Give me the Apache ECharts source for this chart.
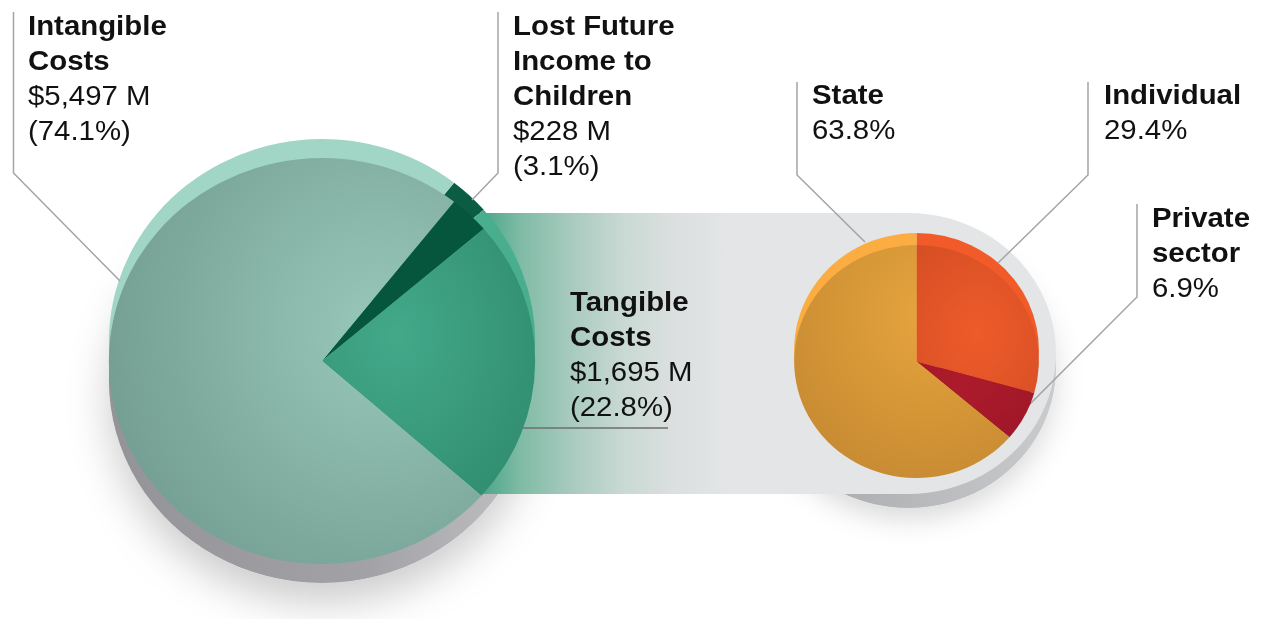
<!DOCTYPE html>
<html>
<head>
<meta charset="utf-8">
<script src="https://cdn.jsdelivr.net/npm/echarts@6/dist/echarts.min.js"></script>
<style>
html, body { margin: 0; padding: 0; background: #fff; overflow: hidden; }
/* the reference art is stretched about 5% wider than tall */
#main { width: 1202px; height: 619px; transform: scaleX(1.05); transform-origin: 0 0; }
</style>
</head>
<body>
<div id="main"></div>
<script>
// big pie: cost of the problem, listed clockwise from the top of the small wedge
const costNames = ['Lost Future\nIncome to\nChildren', 'Tangible\nCosts', 'Intangible\nCosts'];
const costValues = [228, 1695, 5497];   // $ M
const costShares = [3.1, 22.8, 74.1];   // %

// small pie: who carries the tangible costs, clockwise from 12 o'clock
const payerNames = ['Individual', 'Private\nsector', 'State'];
const payerShares = [29.4, 6.9, 63.8];  // %

const SX = 1.05;
const px = x => x / SX;   // picture x -> chart x

const FONT = 'Liberation Sans, Arial, sans-serif';
const rich = {
  b: { fontFamily: FONT, fontSize: 28, fontWeight: 'bold', lineHeight: 35, color: '#111' },
  v: { fontFamily: FONT, fontSize: 28, lineHeight: 35, color: '#111' }
};

// label boxes and leader lines, in picture pixels
const costLabelPos = [
  { x: 513, y: 8, line: [[472, 200], [498, 173], [498, 12]] },
  { x: 570, y: 284, line: [[520, 428], [594, 428], [668, 428]] },
  { x: 28, y: 8, line: [[120, 281], [13.5, 173], [13.5, 12]] }
];
const payerLabelPos = [
  { x: 1104, y: 77, line: [[998, 263], [1088, 175], [1088, 82]] },
  { x: 1152, y: 200, line: [[1028, 406], [1137, 297], [1137, 204]] },
  { x: 812, y: 77, line: [[865, 242], [797, 175], [797, 82]] }
];

const radial = (x, y, r, c0, c1) => new echarts.graphic.RadialGradient(x, y, r, [
  { offset: 0, color: c0 }, { offset: 1, color: c1 }
]);

const costFace = [
  '#06553d',
  radial(0.35, 0.4, 0.9, '#42a989', '#2e886b'),
  radial(0.72, 0.42, 0.95, '#98c8ba', '#6a9387')
];
const costRim = ['#0b5c43', '#48ae8d', '#a1d6c6'];
const payerFace = [
  radial(0.5, 0.6, 0.8, '#ef5b2a', '#d44e24'),
  radial(0.4, 0.3, 1, '#ad1b2b', '#9b1628'),
  radial(0.62, 0.3, 0.95, '#e6a43d', '#bf842f')
];
const payerRim = ['#f15b2a', '#b31c2c', '#fbad41'];
const BAND_GREY = '#e3e5e6';

const layoutFrom = table => p => {
  const L = table[p.dataIndex];
  return {
    x: px(L.x), y: L.y, align: 'left', verticalAlign: 'top',
    labelLinePoints: L.line.map(([x, y]) => [px(x), y])
  };
};

const bigC = [px(322), 361], bigR = 203;
const smallC = [px(916.5), 361.5], smallR = 116.5;
const discCx = px(1056) - 140.5, discCy = 353.5, discR = 140.5;

const chart = echarts.init(document.getElementById('main'), null, { renderer: 'svg' });

chart.setOption({
  animation: false,
  graphic: [
    { type: 'circle', z: 1, silent: true,
      shape: { cx: bigC[0], cy: bigC[1] + 19, r: bigR },
      style: {
        fill: new echarts.graphic.LinearGradient(0, 0, 1, 0, [
          { offset: 0, color: '#949498' }, { offset: 0.6, color: '#a2a2a6' }, { offset: 1, color: '#c2c2c5' }
        ]),
        shadowBlur: 40, shadowColor: 'rgba(0,0,0,0.2)', shadowOffsetY: 20
      } },
    { type: 'circle', z: 1, silent: true,
      shape: { cx: discCx, cy: discCy + 14, r: discR },
      style: {
        fill: new echarts.graphic.LinearGradient(0, 0, 1, 0, [
          { offset: 0, color: '#a3a4a7' }, { offset: 1, color: '#cacbcd' }
        ]),
        shadowBlur: 26, shadowColor: 'rgba(0,0,0,0.14)', shadowOffsetY: 12
      } },
    { type: 'rect', z: 2, silent: true,
      shape: { x: px(478), y: 213, width: discCx - px(478), height: 281 },
      style: {
        fill: new echarts.graphic.LinearGradient(0, 0, 1, 0, [
          { offset: 0, color: '#45a486' }, { offset: 0.1, color: '#80bba6' },
          { offset: 0.22, color: '#a9cbbf' }, { offset: 0.34, color: '#c9d9d3' },
          { offset: 0.46, color: '#dce0e0' }, { offset: 0.58, color: BAND_GREY }, { offset: 1, color: BAND_GREY }
        ])
      } },
    { type: 'circle', z: 2, silent: true,
      shape: { cx: discCx, cy: discCy, r: discR },
      style: { fill: BAND_GREY } }
  ],
  series: [
    {
      type: 'pie', z: 3, silent: true,
      center: [bigC[0], bigC[1] - 19], radius: bigR,
      startAngle: 51.7, clockwise: true,
      label: { show: false }, labelLine: { show: false },
      data: costValues.map((v, i) => ({ name: costNames[i], value: v, itemStyle: { color: costRim[i] } }))
    },
    {
      type: 'pie', z: 4, silent: true,
      center: bigC, radius: bigR,
      startAngle: 51.7, clockwise: true, avoidLabelOverlap: false,
      label: {
        show: true, rich,
        formatter: p => `{b|${p.name}}\n{v|$${p.value.toLocaleString('en-US')} M}\n{v|(${costShares[p.dataIndex]}%)}`
      },
      labelLine: { show: true, lineStyle: { color: '#a3a3a3', width: 1.4 } },
      labelLayout: layoutFrom(costLabelPos),
      data: costValues.map((v, i) => ({
        name: costNames[i], value: v, itemStyle: { color: costFace[i] },
        labelLine: i === 1 ? { lineStyle: { color: '#6e6e6e', width: 1.6 } } : undefined
      }))
    },
    {
      type: 'pie', z: 5, silent: true,
      center: [smallC[0], smallC[1] - 12], radius: smallR,
      startAngle: 90, clockwise: true,
      label: { show: false }, labelLine: { show: false },
      data: payerShares.map((v, i) => ({ name: payerNames[i], value: v, itemStyle: { color: payerRim[i] } }))
    },
    {
      type: 'pie', z: 6, silent: true,
      center: smallC, radius: smallR,
      startAngle: 90, clockwise: true, avoidLabelOverlap: false,
      label: {
        show: true, rich,
        formatter: p => `{b|${p.name}}\n{v|${payerShares[p.dataIndex]}%}`
      },
      labelLine: { show: true, lineStyle: { color: '#a3a3a3', width: 1.4 } },
      labelLayout: layoutFrom(payerLabelPos),
      data: payerShares.map((v, i) => ({ name: payerNames[i], value: v, itemStyle: { color: payerFace[i] } }))
    }
  ]
});
</script>
</body>
</html>
